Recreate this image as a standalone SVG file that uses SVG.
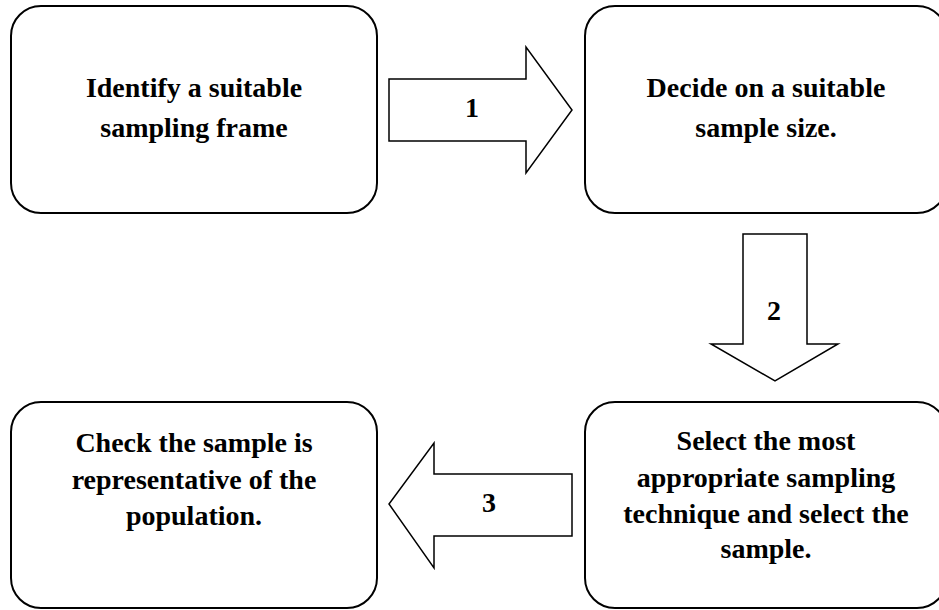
<svg xmlns="http://www.w3.org/2000/svg" width="939" height="610" viewBox="0 0 939 610">
<style>
.box{fill:#fff;stroke:#000;stroke-width:2}
.arr{fill:#fff;stroke:#000;stroke-width:1.5;stroke-linejoin:miter}
</style>
<rect width="939" height="610" fill="#fff"/>
<g font-family="Liberation Serif, Times New Roman, serif" font-weight="bold" font-size="28" text-anchor="middle" fill="#000">
<g id="connectors">
<g id="arrow1"><polygon class="arr" points="389,79 526,79 526,47 572,110 526,173 526,141 389,141"/><text x="472" y="117">1</text></g>
<g id="arrow2"><polygon class="arr" points="743,234 807,234 807,344 838,344 775,381 711,344 743,344"/><text x="774" y="320">2</text></g>
<g id="arrow3"><polygon class="arr" points="572,474 434,474 434,443 389,504 434,568 434,536 572,536"/><text x="489" y="512">3</text></g>
</g>
<g id="node1"><rect class="box" x="11" y="6" width="366" height="207" rx="30"/><text x="194" y="97">Identify a suitable</text><text x="194" y="137">sampling frame</text></g>
<g id="node2"><rect class="box" x="585" y="6" width="362" height="207" rx="30"/><text x="766" y="97">Decide on a suitable</text><text x="766" y="137">sample size.</text></g>
<g id="node3"><rect class="box" x="585" y="402" width="362" height="206" rx="30"/><text x="766" y="450">Select the most</text><text x="766" y="487">appropriate sampling</text><text x="766" y="523">technique and select the</text><text x="766" y="558">sample.</text></g>
<g id="node4"><rect class="box" x="11" y="402" width="366" height="206" rx="30"/><text x="194" y="452">Check the sample is</text><text x="194" y="489">representative of the</text><text x="194" y="525">population.</text></g>
</g>
</svg>
